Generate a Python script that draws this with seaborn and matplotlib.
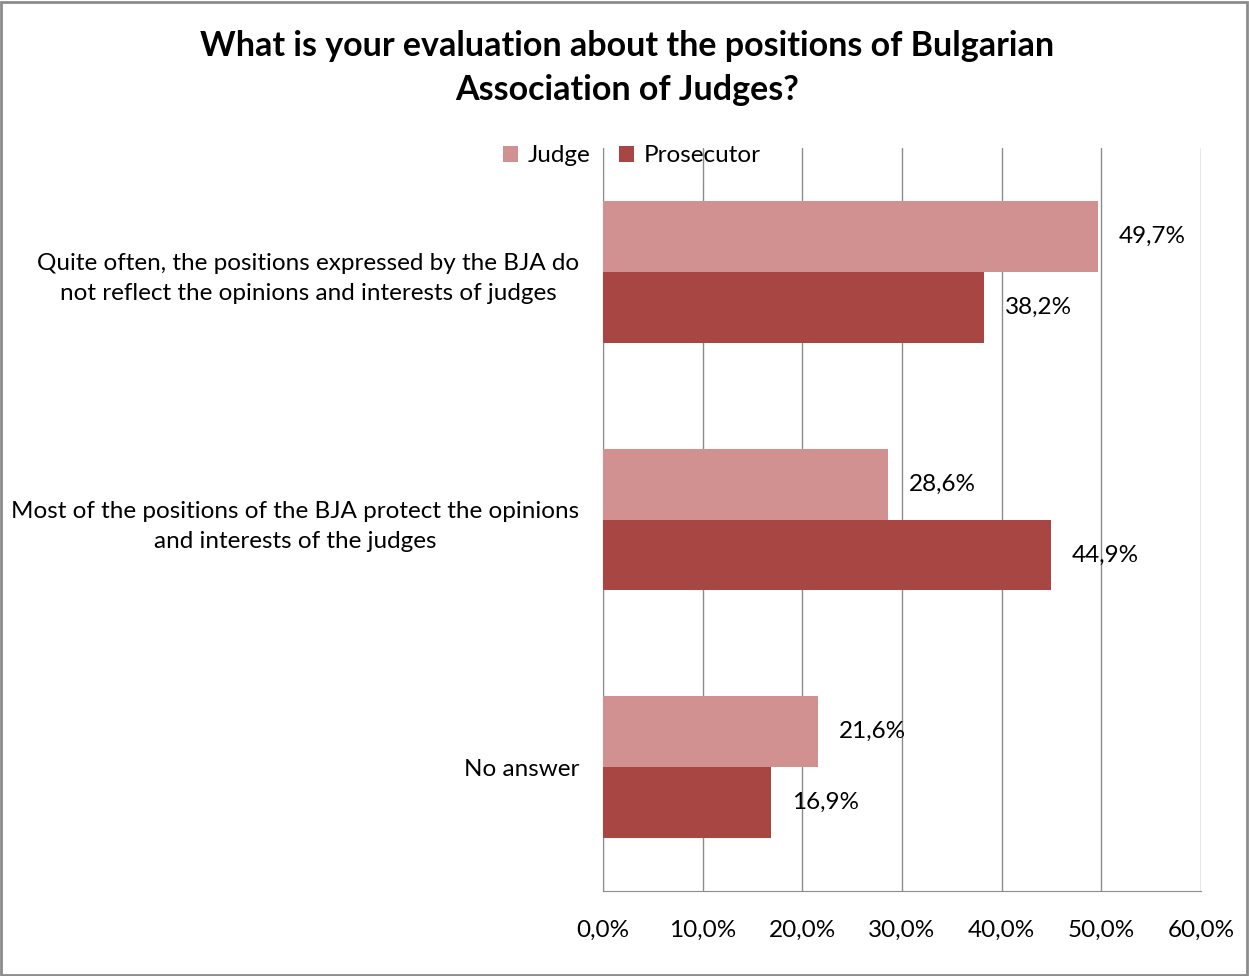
import numpy as np
import pandas as pd
import matplotlib
matplotlib.use('Agg')
import matplotlib.pyplot as plt
from matplotlib.ticker import FuncFormatter
import seaborn as sns

categories = ['Quite often, the positions expressed by the BJA do\nnot reflect the opinions and interests of judges',
              'Most of the positions of the BJA protect the opinions\nand interests of the judges',
              'No answer']
judge = [49.7, 28.6, 21.6]
prosecutor = [38.2, 44.9, 16.9]
series = ['Judge', 'Prosecutor']
colors = ['#D09190', '#A84644']
title = 'What is your evaluation about the positions of Bulgarian\nAssociation of Judges?'

df = pd.DataFrame({
    'cat': categories * 2,
    'val': judge + prosecutor,
    'who': [series[0]] * 3 + [series[1]] * 3,
})

sns.set_style('white')
plt.rcParams['font.family'] = ['Lato', 'DejaVu Sans']
plt.rcParams['text.color'] = 'black'

fig = plt.figure(figsize=(12.49, 9.76), dpi=100)
ax = fig.add_axes([603 / 1249, 1 - 891 / 976, 598 / 1249, 743 / 976])

sns.barplot(data=df, y='cat', x='val', hue='who', orient='h',
            palette=colors, width=0.573, saturation=1, linewidth=0,
            ax=ax, zorder=3)

ax.set_xlim(0, 60)
ax.set_xticks(np.arange(0, 61, 10))
ax.xaxis.set_major_formatter(FuncFormatter(lambda v, p: f'{v:.1f}%'.replace('.', ',')))
ax.grid(axis='x', color='#8c8c8c', linewidth=1, zorder=0)
ax.set_axisbelow(True)
ax.set_xlabel('')
ax.set_ylabel('')
for s in ['top', 'right']:
    ax.spines[s].set_visible(False)
for s in ['left', 'bottom']:
    ax.spines[s].set_color('#8c8c8c')
ax.tick_params(axis='x', labelsize=17.5, pad=21, length=0, labelcolor='black')
ax.tick_params(axis='y', labelsize=17.5, pad=17, length=0, labelcolor='black')
for t in ax.get_yticklabels():
    t.set_multialignment('center')
    t.set_linespacing(1.55)

for cont in ax.containers:
    labels = [f'{v:.1f}%'.replace('.', ',') for v in cont.datavalues]
    ax.bar_label(cont, labels=labels, padding=15, fontsize=17.5, color='black')

leg = ax.legend(loc='center', bbox_to_anchor=(632 / 1249, 1 - 156 / 976),
                bbox_transform=fig.transFigure, ncol=2, frameon=False,
                fontsize=17.5, handlelength=0.6, handleheight=0.6,
                handletextpad=0.4, columnspacing=1.2)
for t in leg.get_texts():
    t.set_color('black')

fig.text(627 / 1249, 1 - 68 / 976, title, ha='center', va='center',
         fontsize=24.5, fontweight='bold', linespacing=1.5, color='black')

fig.patches.append(plt.Rectangle((0.001, 0.001), 0.997, 0.997, transform=fig.transFigure,
                                 fill=False, edgecolor='#8c8c8c', linewidth=2))

fig.savefig('out.png', dpi=100)
